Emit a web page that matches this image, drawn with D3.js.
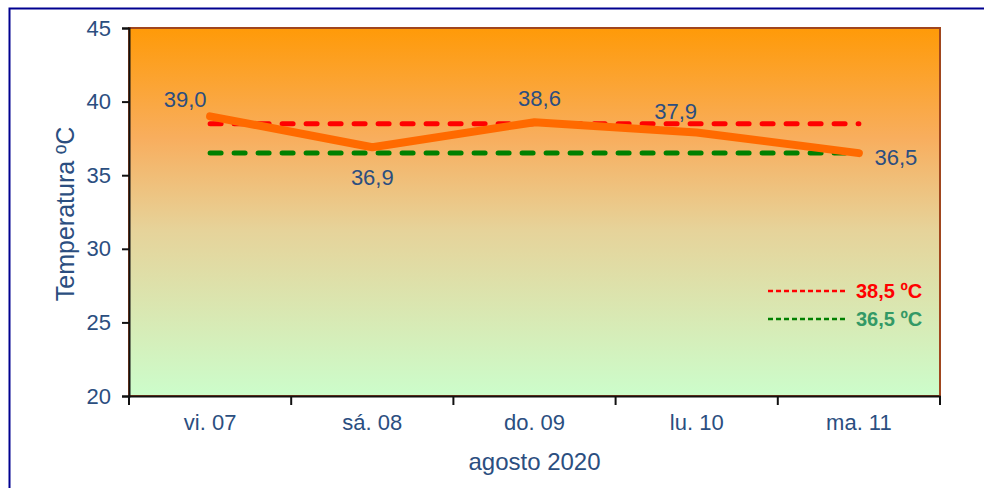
<!DOCTYPE html>
<html>
<head>
<meta charset="utf-8">
<script src="https://cdn.jsdelivr.net/npm/d3@7"></script>
<style>
  body { margin: 0; background: #fff; }
  svg { display: block; font-family: "Liberation Sans", Arial, sans-serif; }
</style>
</head>
<body>
<div id="chart"></div>
<script>
// temperature readings, august 2020
const days = ["vi. 07", "sá. 08", "do. 09", "lu. 10", "ma. 11"];
const temps = [39.0, 36.9, 38.6, 37.9, 36.5];
const yTicks = [20, 25, 30, 35, 40, 45];
const refLevels = [38.5, 36.5];
const refLabels = ["38,5 ºC", "36,5 ºC"];

const W = 984, H = 488;
const margin = {top: 28, right: 44, bottom: 92, left: 129};
const width = W - margin.left - margin.right;
const height = H - margin.top - margin.bottom;
const navy = "#2B4E80";

const svg = d3.select("#chart").append("svg")
    .attr("width", W)
    .attr("height", H);

// outer frame (only left/top visible)
svg.append("rect")
    .attr("x", 9.5).attr("y", 8.5)
    .attr("width", 1000).attr("height", 500)
    .attr("fill", "none")
    .attr("stroke", "#000090")
    .attr("stroke-width", 2);

const defs = svg.append("defs");
const grad = defs.append("linearGradient")
    .attr("id", "bg").attr("x1", 0).attr("y1", 0).attr("x2", 0).attr("y2", 1);
grad.append("stop").attr("offset", "0%").attr("stop-color", "#FF9A08");
grad.append("stop").attr("offset", "30%").attr("stop-color", "#F8AE5E");
grad.append("stop").attr("offset", "55%").attr("stop-color", "#E6D39A");
grad.append("stop").attr("offset", "100%").attr("stop-color", "#CCFDCB");

const g = svg.append("g")
    .attr("transform", "translate(" + margin.left + "," + margin.top + ")");

let x = d3.scaleBand().domain(days).range([0, width]);
let y = d3.scaleLinear().domain([20, 45]).range([height, 0]);

g.append("rect")
    .attr("width", width).attr("height", height)
    .attr("fill", "url(#bg)")
    .attr("stroke", "#A0461E")
    .attr("stroke-width", 2);

// y axis
let yAxis = g.append("g")
    .call(d3.axisLeft(y).tickValues(yTicks).tickSize(7).tickPadding(11));
yAxis.select(".domain").attr("stroke", "#111").attr("stroke-width", 2);
yAxis.selectAll(".tick line").attr("stroke", "#111").attr("stroke-width", 2);
yAxis.selectAll("text").attr("fill", navy).style("font-size", "22px");

// x axis, ticks on band edges
let xAxis = g.append("g")
    .attr("transform", "translate(0," + height + ")")
    .call(d3.axisBottom(x).tickSize(0).tickPadding(18));
xAxis.select(".domain").attr("stroke", "#111").attr("stroke-width", 2);
xAxis.selectAll("text").attr("fill", navy).style("font-size", "22px");
xAxis.selectAll(".edge")
    .data(days.concat(["end"]))
    .enter().append("line")
    .attr("x1", (d, i) => i < days.length ? x(d) : width)
    .attr("x2", (d, i) => i < days.length ? x(d) : width)
    .attr("y1", 0).attr("y2", 9)
    .attr("stroke", "#111").attr("stroke-width", 2);

// axis titles
svg.append("text")
    .attr("transform", "translate(74," + (margin.top + height / 2 + 2) + ") rotate(-90)")
    .attr("text-anchor", "middle")
    .attr("fill", navy)
    .style("font-size", "25px")
    .text("Temperatura ºC");

svg.append("text")
    .attr("x", margin.left + width / 2)
    .attr("y", 470)
    .attr("text-anchor", "middle")
    .attr("fill", navy)
    .style("font-size", "24px")
    .text("agosto 2020");

const cx = d => x(d) + x.bandwidth() / 2;
const refColors = ["#FF0000", "#008000"];

// reference lines
g.selectAll(".ref")
    .data(refLevels)
    .enter().append("line")
    .attr("x1", cx(days[0]))
    .attr("x2", cx(days[days.length - 1]))
    .attr("y1", d => y(d)).attr("y2", d => y(d))
    .attr("stroke", (d, i) => refColors[i])
    .attr("stroke-width", 5)
    .attr("stroke-linecap", "round")
    .attr("stroke-dasharray", "11 13");

// temperature line
let line = d3.line()
    .x((d, i) => cx(days[i]))
    .y(d => y(d));

g.append("path")
    .datum(temps)
    .attr("d", line)
    .attr("fill", "none")
    .attr("stroke", "#FF6A00")
    .attr("stroke-width", 8)
    .attr("stroke-linecap", "round")
    .attr("stroke-linejoin", "round");

// data labels
const labelOffsets = [[-25, -9], [0, 38], [5, -16], [-21, -14], [37, 12]];
g.selectAll(".lbl")
    .data(temps)
    .enter().append("text")
    .attr("x", (d, i) => cx(days[i]) + labelOffsets[i][0])
    .attr("y", (d, i) => y(d) + labelOffsets[i][1])
    .attr("text-anchor", "middle")
    .attr("fill", navy)
    .style("font-size", "22px")
    .text(d => d.toFixed(1).replace(".", ","));

// legend
let legend = g.selectAll(".leg")
    .data(refLabels)
    .enter().append("g")
    .attr("transform", (d, i) => "translate(639," + (263 + i * 28) + ")");

legend.append("line")
    .attr("x1", 0).attr("x2", 79)
    .attr("stroke", (d, i) => refColors[i])
    .attr("stroke-width", 2.5)
    .attr("stroke-dasharray", "5 3");

legend.append("text")
    .attr("x", 88).attr("y", 7)
    .attr("fill", (d, i) => i === 0 ? "#FF0000" : "#339966")
    .style("font-size", "20px")
    .style("font-weight", "bold")
    .text(d => d);
</script>
</body>
</html>
